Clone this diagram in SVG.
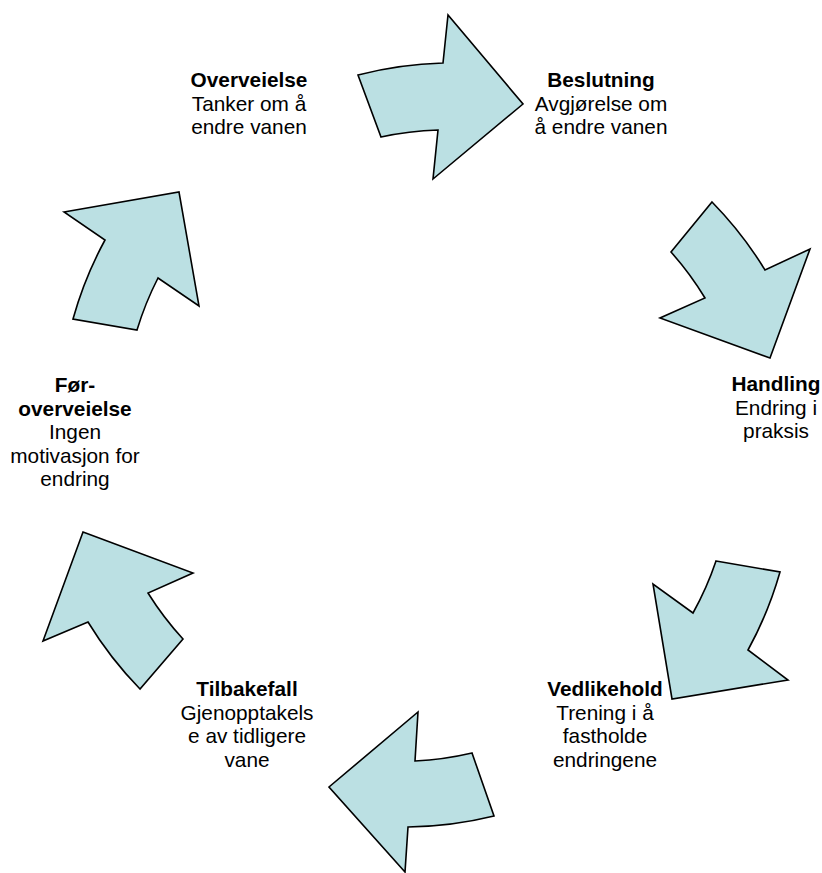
<svg xmlns="http://www.w3.org/2000/svg" width="822" height="873" viewBox="0 0 822 873">
  <style>
    .arrow { fill: #BBE0E3; stroke: #000; stroke-width: 1.6; stroke-linejoin: miter; }
    text { font-family: "Liberation Sans", Arial, sans-serif; font-size: 20.8px; fill: #000; text-anchor: middle; }
    .b { font-weight: bold; }
  </style>
  <rect width="822" height="873" fill="#fff"/>

  <!-- curved block arrows around the cycle -->
  <g id="connectors">
    <path id="arrow-top" class="arrow" d="M358,75 A378,378 0 0 1 443,63 L448,15 L523,104 L433,179 L438,130 A313,313 0 0 0 381,137 Z"/>
    <path id="arrow-right-upper" class="arrow" d="M712,202 A378,378 0 0 1 765,270 L810,249 L770,358 L660,318 L705,298 A313,313 0 0 0 671,252 Z"/>
    <path id="arrow-right-lower" class="arrow" d="M716,561 L780,572 A378,378 0 0 1 748,650 L788,680 L672,699 L653,584 L693,613 A313,313 0 0 0 716,561 Z"/>
    <path id="arrow-bottom" class="arrow" d="M418,712 L415,761 A313,313 0 0 0 472,753 L494,816 A378,378 0 0 1 408,827 L405,872 L329,787 Z"/>
    <path id="arrow-left-lower" class="arrow" d="M83,532 L193,573 L148,593 A313,313 0 0 0 183,639 L140,689 A378,378 0 0 1 88,622 L43,641 Z"/>
    <path id="arrow-left-upper" class="arrow" d="M64,212 L179,192 L199,306 L158,278 A313,313 0 0 0 137,330 L73,319 A378,378 0 0 1 105,240 Z"/>
  </g>

  <g id="overveielse">
    <text x="249" y="87" class="b">Overveielse</text>
    <text x="249" y="110.5">Tanker om å</text>
    <text x="249" y="134">endre vanen</text>
  </g>

  <g id="beslutning">
    <text x="601" y="87" class="b">Beslutning</text>
    <text x="601" y="110.5">Avgjørelse om</text>
    <text x="601" y="134">å endre vanen</text>
  </g>

  <g id="handling">
    <text x="776" y="391" class="b">Handling</text>
    <text x="776" y="414.5">Endring i</text>
    <text x="776" y="438">praksis</text>
  </g>

  <g id="vedlikehold">
    <text x="605" y="696" class="b">Vedlikehold</text>
    <text x="605" y="719.5">Trening i å</text>
    <text x="605" y="743">fastholde</text>
    <text x="605" y="766.5">endringene</text>
  </g>

  <g id="tilbakefall">
    <text x="247" y="696" class="b">Tilbakefall</text>
    <text x="247" y="719.5">Gjenopptakels</text>
    <text x="247" y="743">e av tidligere</text>
    <text x="247" y="766.5">vane</text>
  </g>

  <g id="foroverveielse">
    <text x="75" y="392" class="b">Før-</text>
    <text x="75" y="415.5" class="b">overveielse</text>
    <text x="75" y="439">Ingen</text>
    <text x="75" y="462.5">motivasjon for</text>
    <text x="75" y="486">endring</text>
  </g>
</svg>
